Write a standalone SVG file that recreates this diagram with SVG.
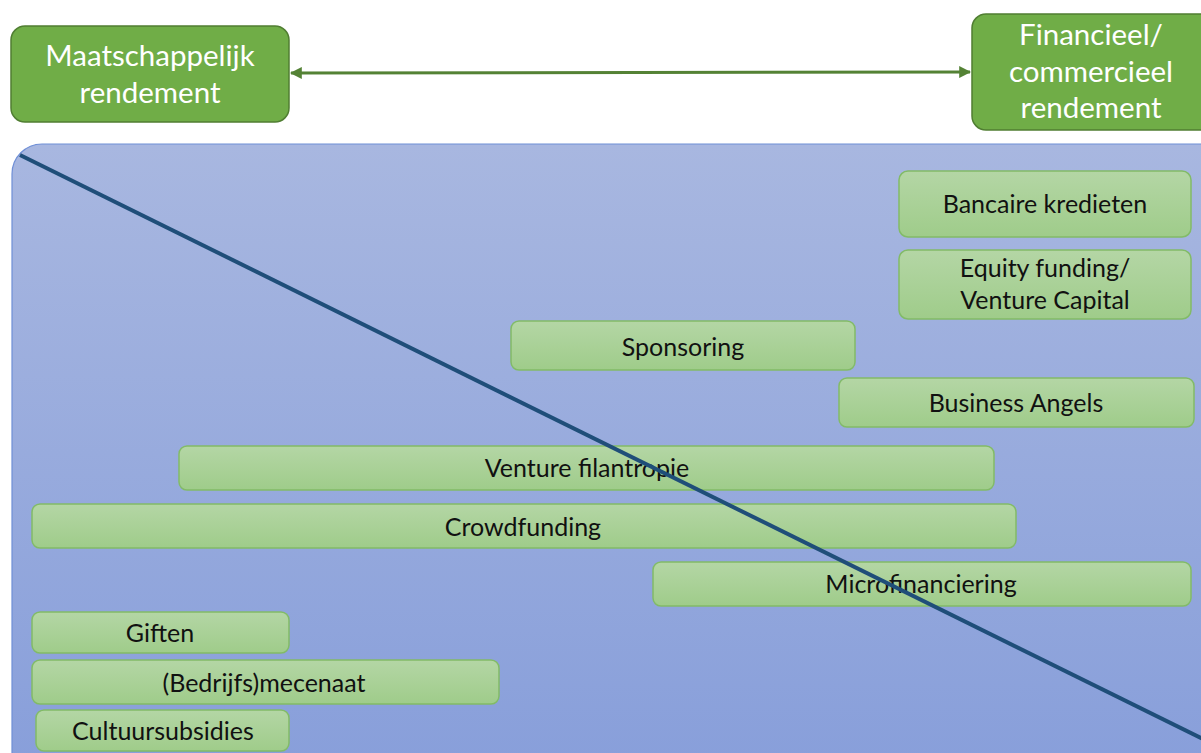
<svg xmlns="http://www.w3.org/2000/svg" width="1201" height="753" viewBox="0 0 1201 753">
<defs>
<linearGradient id="bg" x1="0" y1="0" x2="0" y2="1">
<stop offset="0" stop-color="#A8B7E0"/>
<stop offset="1" stop-color="#879EDA"/>
</linearGradient>
<linearGradient id="bar" x1="0" y1="0" x2="0" y2="1">
<stop offset="0" stop-color="#B4D6A5"/>
<stop offset="1" stop-color="#9FCC8A"/>
</linearGradient>
<marker id="ah" viewBox="0 0 10 10" refX="9" refY="5" markerWidth="4" markerHeight="4" orient="auto-start-reverse">
<path d="M0,0 L10,5 L0,10 z" fill="#548235"/>
</marker>
<style>
.top{fill:#70AD47;stroke:#507E32;stroke-width:1.5}
.toptxt{font-family:Lato,"Liberation Sans",sans-serif;font-size:29.5px;fill:#FFFFFF;text-anchor:middle}
.bar{fill:url(#bar);stroke:#82BB67;stroke-width:1.5}
.txt{font-family:Lato,"Liberation Sans",sans-serif;font-size:25px;fill:#111111;text-anchor:middle}
</style>
</defs>
<rect id="panel" x="12" y="144" width="1220" height="640" rx="30" fill="url(#bg)" stroke="#6F8FD6" stroke-width="1.2"/>
<g id="n-maatschappelijk">
<rect class="top" x="11" y="26" width="278" height="96" rx="14"/>
<text class="toptxt" x="150" y="66">Maatschappelijk</text>
<text class="toptxt" x="150" y="103">rendement</text>
</g>
<g id="n-financieel">
<rect class="top" x="972" y="14" width="250" height="116" rx="14"/>
<text class="toptxt" x="1091" y="45">Financieel/</text>
<text class="toptxt" x="1091" y="82">commercieel</text>
<text class="toptxt" x="1091" y="118">rendement</text>
</g>
<g id="n-bancaire">
<rect class="bar" x="899" y="171" width="292" height="66" rx="9"/>
<text class="txt" x="1045" y="213">Bancaire kredieten</text>
</g>
<g id="n-equity">
<rect class="bar" x="899" y="250" width="292" height="69" rx="9"/>
<text class="txt" x="1045" y="277">Equity funding/</text>
<text class="txt" x="1045" y="309">Venture Capital</text>
</g>
<g id="n-sponsoring">
<rect class="bar" x="511" y="321" width="344" height="49" rx="8"/>
<text class="txt" x="683" y="356">Sponsoring</text>
</g>
<g id="n-angels">
<rect class="bar" x="839" y="378" width="355" height="49" rx="8"/>
<text class="txt" x="1016" y="412">Business Angels</text>
</g>
<g id="n-venture">
<rect class="bar" x="179" y="446" width="815" height="44" rx="8"/>
<text class="txt" x="587" y="477">Venture filantropie</text>
</g>
<g id="n-crowdfunding">
<rect class="bar" x="32" y="504" width="984" height="44" rx="8"/>
<text class="txt" x="523" y="536">Crowdfunding</text>
</g>
<g id="n-micro">
<rect class="bar" x="653" y="562" width="538" height="44" rx="8"/>
<text class="txt" x="921" y="593">Microfinanciering</text>
</g>
<g id="n-giften">
<rect class="bar" x="32" y="612" width="257" height="41" rx="8"/>
<text class="txt" x="160" y="642">Giften</text>
</g>
<g id="n-mecenaat">
<rect class="bar" x="32" y="660" width="467" height="44" rx="8"/>
<text class="txt" x="264" y="692">(Bedrijfs)mecenaat</text>
</g>
<g id="n-cultuur">
<rect class="bar" x="36" y="710" width="253" height="41" rx="8"/>
<text class="txt" x="163" y="740">Cultuursubsidies</text>
</g>
<g id="connectors">
<line x1="291" y1="73" x2="970" y2="72" stroke="#548235" stroke-width="3" marker-start="url(#ah)" marker-end="url(#ah)"/>
<line x1="20" y1="155" x2="1205" y2="740" stroke="#1F4E79" stroke-width="4"/>
</g>
</svg>
